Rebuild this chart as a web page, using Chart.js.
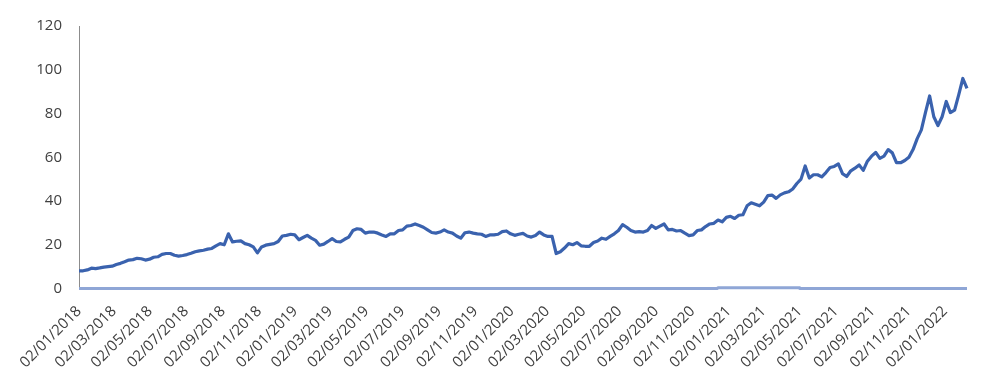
<!DOCTYPE html>
<html><head><meta charset="utf-8">
<script src="https://cdn.jsdelivr.net/npm/chart.js@4"></script>
<style>html,body{margin:0;padding:0;background:#fff}#wrap{width:1004px;height:384px;position:relative}</style>
</head><body><div id="wrap"><canvas id="c"></canvas></div>
<script>
// Weekly series starting 02/01/2018
const seriesStart = '02/01/2018';
const stepDays = 7;
const tickLabels = ['02/01/2018','02/03/2018','02/05/2018','02/07/2018','02/09/2018','02/11/2018',
  '02/01/2019','02/03/2019','02/05/2019','02/07/2019','02/09/2019','02/11/2019',
  '02/01/2020','02/03/2020','02/05/2020','02/07/2020','02/09/2020','02/11/2020',
  '02/01/2021','02/03/2021','02/05/2021','02/07/2021','02/09/2021','02/11/2021','02/01/2022'];
const yTicks = [0,20,40,60,80,100,120];
const mainValues = [
8.1, 8.1, 8.5, 9.3, 9.1, 9.4, 9.8, 10.0, 10.2, 11.0,
11.5, 12.2, 13.0, 13.2, 13.8, 13.6, 13.0, 13.4, 14.3, 14.5,
15.6, 16.0, 16.0, 15.2, 14.8, 15.1, 15.5, 16.1, 16.8, 17.2,
17.5, 18.0, 18.3, 19.5, 20.5, 20.0, 25.0, 21.3, 21.6, 21.8,
20.5, 20.0, 19.0, 16.3, 19.0, 19.8, 20.2, 20.5, 21.5, 24.0,
24.3, 24.8, 24.5, 22.3, 23.3, 24.3, 23.0, 22.0, 19.8, 20.3,
21.5, 22.8, 21.5, 21.3, 22.5, 23.5, 26.5, 27.3, 27.0, 25.3,
25.8, 25.8, 25.3, 24.5, 23.8, 25.0, 25.0, 26.5, 26.8, 28.5,
28.8, 29.5, 28.8, 28.0, 26.8, 25.6, 25.3, 25.8, 26.8, 25.8,
25.3, 24.0, 23.0, 25.5, 25.8, 25.3, 25.0, 24.8, 23.8, 24.5,
24.5, 24.8, 26.0, 26.3, 25.0, 24.3, 24.8, 25.2, 24.0, 23.5,
24.2, 25.8, 24.5, 23.8, 23.8, 16.0, 16.8, 18.5, 20.5, 20.0,
21.0, 19.5, 19.3, 19.3, 21.0, 21.7, 23.0, 22.5, 23.8, 25.0,
26.5, 29.2, 28.0, 26.5, 25.8, 26.0, 25.8, 26.5, 28.8, 27.5,
28.5, 29.5, 26.8, 27.0, 26.3, 26.5, 25.3, 24.2, 24.5, 26.5,
26.8, 28.3, 29.5, 29.8, 31.3, 30.5, 32.5, 33.0, 32.0, 33.5,
33.7, 37.8, 39.2, 38.5, 37.8, 39.5, 42.5, 42.7, 41.2, 42.8,
43.7, 44.2, 45.5, 48.0, 50.0, 56.0, 50.5, 52.0, 52.0, 51.0,
53.0, 55.3, 55.8, 57.0, 52.5, 51.2, 53.8, 55.0, 56.5, 54.0,
58.2, 60.5, 62.2, 59.5, 60.5, 63.5, 62.0, 57.5, 57.5, 58.5,
60.0, 63.5, 68.5, 72.5, 80.5, 88.0, 78.5, 74.5, 78.5, 85.5,
80.4, 81.5, 88.5, 96.0, 91.5
];
const lowDates = ['02/01/2018','14/12/2020','15/12/2020','01/05/2021','02/05/2021','08/02/2022'];
const lowValues = [0, 0, 0.4, 0.4, 0, 0];

function toUTC(s){ const p = s.split('/').map(Number); return Date.UTC(p[2], p[1]-1, p[0]); }
const t0 = toUTC(seriesStart);
function dayOf(s){ return Math.round((toUTC(s) - t0) / 86400000); }

const mainData = mainValues.map((v, i) => ({x: i * stepDays, y: v}));
const lowData = lowDates.map((d, i) => ({x: dayOf(d), y: lowValues[i]}));
const tickDays = tickLabels.map(dayOf);
const labelByDay = {};
tickLabels.forEach((l, i) => { labelByDay[tickDays[i]] = l; });
const lastDay = (mainValues.length - 1) * stepDays;

const font = {family: "'Open Sans', sans-serif", size: 15};

new Chart(document.getElementById('c'), {
  type: 'line',
  data: {
    datasets: [
      {data: lowData, borderColor: '#8FA6D6', borderWidth: 3, pointRadius: 0, tension: 0, clip: 6, borderJoinStyle: 'round'},
      {data: mainData, borderColor: '#3A62AE', borderWidth: 3.2, pointRadius: 0, tension: 0, clip: 6, borderJoinStyle: 'round'}
    ]
  },
  options: {
    responsive: true, maintainAspectRatio: false, animation: false, devicePixelRatio: 1,
    layout: {padding: {left: 0, right: 37, top: 22, bottom: 0}},
    plugins: {legend: {display: false}, tooltip: {enabled: false}},
    scales: {
      x: {
        type: 'linear', min: 0, max: lastDay,
        grid: {display: false, drawTicks: false}, border: {display: false},
        afterBuildTicks: (s) => { s.ticks = tickDays.map(v => ({value: v})); },
        afterFit: (s) => { s.height = 95.5; },
        ticks: {autoSkip: false, maxRotation: 45, minRotation: 45, padding: 14, color: '#404040', font,
          callback: (v) => labelByDay[v] !== undefined ? labelByDay[v] : ''}
      },
      y: {
        min: 0, max: 120,
        grid: {display: false, drawTicks: false}, border: {display: true, color: '#8C8C8C', width: 1},
        afterBuildTicks: (s) => { s.ticks = yTicks.map(v => ({value: v})); },
        afterFit: (s) => { s.width = 79; },
        ticks: {padding: 17, color: '#404040', font}
      }
    }
  }
});
</script></body></html>
